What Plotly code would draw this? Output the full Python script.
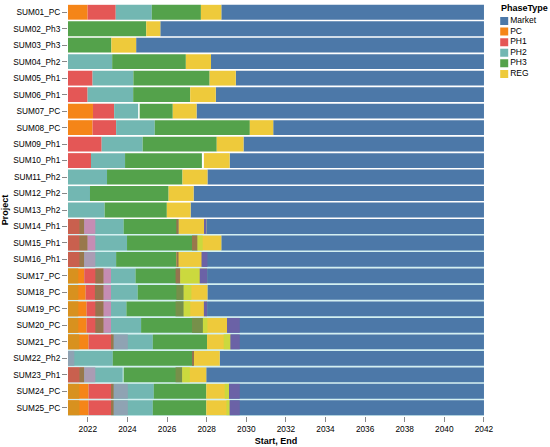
import plotly.graph_objects as go

# Projects, top to bottom
projects = ["SUM01_PC", "SUM02_Ph3", "SUM03_Ph3", "SUM04_Ph2", "SUM05_Ph1",
            "SUM06_Ph1", "SUM07_PC", "SUM08_PC", "SUM09_Ph1", "SUM10_Ph1",
            "SUM11_Ph2", "SUM12_Ph2", "SUM13_Ph2", "SUM14_Ph1", "SUM15_Ph1",
            "SUM16_Ph1", "SUM17_PC", "SUM18_PC", "SUM19_PC", "SUM20_PC",
            "SUM21_PC", "SUM22_Ph2", "SUM23_Ph1", "SUM24_PC", "SUM25_PC"]

phase_types = ["Market", "PC", "PH1", "PH2", "PH3", "REG"]

# Phase rows: project, phase, start, end (decimal years)
seg_project = []
seg_phase = []
seg_start = []
seg_end = []

def add(p, rows):
    for ph, s, e in rows:
        seg_project.append(p)
        seg_phase.append(ph)
        seg_start.append(s)
        seg_end.append(e)

add("SUM01_PC", [("PC", 2021.0, 2021.99), ("PH1", 2021.99, 2023.41), ("PH2", 2023.41, 2025.23),
                 ("PH3", 2025.23, 2027.71), ("REG", 2027.71, 2028.74), ("Market", 2028.74, 2042)])
add("SUM02_Ph3", [("PH3", 2021.0, 2024.95), ("REG", 2024.95, 2025.66), ("Market", 2025.66, 2042)])
add("SUM03_Ph3", [("PH3", 2021.0, 2023.19), ("REG", 2023.19, 2024.44), ("Market", 2024.44, 2042)])
add("SUM04_Ph2", [("PH2", 2021.0, 2023.23), ("PH3", 2023.23, 2026.95), ("REG", 2026.95, 2028.22),
                  ("Market", 2028.22, 2042)])
add("SUM05_Ph1", [("PH1", 2021.0, 2022.24), ("PH2", 2022.24, 2024.30), ("PH3", 2024.30, 2028.15),
                  ("REG", 2028.15, 2029.47), ("Market", 2029.47, 2042)])
add("SUM06_Ph1", [("PH1", 2021.0, 2021.99), ("PH2", 2021.99, 2024.29), ("PH3", 2024.29, 2027.17),
                  ("REG", 2027.17, 2028.46), ("Market", 2028.46, 2042)])
add("SUM07_PC", [("PC", 2021.0, 2022.26), ("PH1", 2022.26, 2023.33), ("PH2", 2023.33, 2024.54),
                 ("PH3", 2024.62, 2026.29), ("REG", 2026.29, 2027.49), ("Market", 2027.49, 2042)])
add("SUM08_PC", [("PC", 2021.0, 2022.24), ("PH1", 2022.24, 2023.43), ("PH2", 2023.43, 2025.38),
                 ("PH3", 2025.38, 2030.18), ("REG", 2030.18, 2031.36), ("Market", 2031.36, 2042)])
add("SUM09_Ph1", [("PH1", 2021.0, 2022.70), ("PH2", 2022.70, 2024.77), ("PH3", 2024.77, 2028.51),
                  ("REG", 2028.51, 2029.86), ("Market", 2029.86, 2042)])
add("SUM10_Ph1", [("PH1", 2021.0, 2022.16), ("PH2", 2022.16, 2023.88), ("PH3", 2023.88, 2027.76),
                  ("REG", 2027.86, 2029.16), ("Market", 2029.16, 2042)])
add("SUM11_Ph2", [("PH2", 2021.0, 2022.97), ("PH3", 2022.97, 2026.78), ("REG", 2026.78, 2028.04),
                  ("Market", 2028.04, 2042)])
add("SUM12_Ph2", [("PH2", 2021.0, 2022.11), ("PH3", 2022.11, 2026.08), ("REG", 2026.08, 2027.34),
                  ("Market", 2027.34, 2042)])
add("SUM13_Ph2", [("PH2", 2021.0, 2022.85), ("PH3", 2022.85, 2025.99), ("REG", 2025.99, 2027.19),
                  ("Market", 2027.19, 2042)])
add("SUM14_Ph1", [("PH1", 2021.0, 2021.82), ("PH2", 2021.82, 2023.81), ("PH3", 2023.81, 2026.58),
                  ("REG", 2026.58, 2027.98), ("Market", 2027.98, 2042)])
add("SUM15_Ph1", [("PH1", 2021.0, 2021.99), ("PH2", 2021.99, 2023.98), ("PH3", 2023.98, 2027.54),
                  ("REG", 2027.54, 2028.74), ("Market", 2028.74, 2042)])
add("SUM16_Ph1", [("PH1", 2021.0, 2021.82), ("PH2", 2021.82, 2023.43), ("PH3", 2023.43, 2026.47),
                  ("REG", 2026.47, 2027.78), ("Market", 2027.78, 2042)])
add("SUM17_PC", [("PC", 2021.0, 2021.82), ("PH1", 2021.82, 2022.80), ("PH2", 2022.80, 2024.41),
                 ("PH3", 2024.41, 2026.67), ("REG", 2026.67, 2028.02), ("Market", 2028.02, 2042)])
add("SUM18_PC", [("PC", 2021.0, 2021.89), ("PH1", 2021.89, 2022.80), ("PH2", 2022.80, 2024.52),
                 ("PH3", 2024.52, 2026.84), ("REG", 2026.84, 2028.04), ("Market", 2028.04, 2042)])
add("SUM19_PC", [("PC", 2021.0, 2021.94), ("PH1", 2021.94, 2022.80), ("PH2", 2022.80, 2023.95),
                 ("PH3", 2023.95, 2026.84), ("REG", 2026.84, 2028.02), ("Market", 2028.02, 2042)])
add("SUM20_PC", [("PC", 2021.0, 2021.94), ("PH1", 2021.94, 2022.80), ("PH2", 2022.80, 2024.69),
                 ("PH3", 2024.69, 2027.81), ("REG", 2027.81, 2029.03), ("Market", 2029.03, 2042)])
add("SUM21_PC", [("PC", 2021.0, 2022.04), ("PH1", 2022.04, 2023.21), ("PH2", 2023.21, 2025.28),
                 ("PH3", 2025.28, 2028.02), ("REG", 2028.02, 2029.20), ("Market", 2029.20, 2042)])
add("SUM22_Ph2", [("PH2", 2021.0, 2023.26), ("PH3", 2023.26, 2027.34), ("REG", 2027.34, 2028.66),
                  ("Market", 2028.66, 2042)])
add("SUM23_Ph1", [("PH1", 2021.0, 2021.82), ("PH2", 2021.82, 2023.76), ("PH3", 2023.81, 2026.77),
                  ("REG", 2026.77, 2027.98), ("Market", 2027.98, 2042)])
add("SUM24_PC", [("PC", 2021.0, 2022.04), ("PH1", 2022.04, 2023.21), ("PH2", 2023.21, 2025.33),
                 ("PH3", 2025.33, 2027.98), ("REG", 2027.98, 2029.13), ("Market", 2029.13, 2042)])
add("SUM25_PC", [("PC", 2021.0, 2022.04), ("PH1", 2022.04, 2023.21), ("PH2", 2023.21, 2025.28),
                 ("PH3", 2025.28, 2027.98), ("REG", 2027.98, 2029.16), ("Market", 2029.16, 2042)])

# Overlapping (blended) stretches seen in the lower projects
ov_project = ["SUM14_Ph1", "SUM14_Ph1", "SUM14_Ph1", "SUM14_Ph1", "SUM14_Ph1",
              "SUM15_Ph1", "SUM15_Ph1", "SUM15_Ph1", "SUM15_Ph1", "SUM15_Ph1",
              "SUM16_Ph1", "SUM16_Ph1", "SUM16_Ph1", "SUM16_Ph1", "SUM16_Ph1",
              "SUM17_PC", "SUM17_PC", "SUM17_PC", "SUM17_PC", "SUM17_PC", "SUM17_PC",
              "SUM18_PC", "SUM18_PC", "SUM18_PC", "SUM18_PC", "SUM18_PC",
              "SUM19_PC", "SUM19_PC", "SUM19_PC", "SUM19_PC", "SUM19_PC", "SUM19_PC",
              "SUM20_PC", "SUM20_PC", "SUM20_PC", "SUM20_PC", "SUM20_PC", "SUM20_PC",
              "SUM21_PC", "SUM21_PC", "SUM21_PC", "SUM21_PC", "SUM21_PC",
              "SUM22_Ph2", "SUM22_Ph2",
              "SUM23_Ph1", "SUM23_Ph1", "SUM23_Ph1", "SUM23_Ph1", "SUM23_Ph1",
              "SUM24_PC", "SUM24_PC", "SUM24_PC", "SUM24_PC", "SUM24_PC",
              "SUM25_PC", "SUM25_PC", "SUM25_PC", "SUM25_PC", "SUM25_PC"]
ov_kind = ["rust", "olive", "mauve", "brown", "purple",
           "rust", "olive", "mauve", "olive", "lime",
           "rust", "olive", "greymauve", "brown", "purple",
           "ochre", "brown", "mauve", "brown", "lime", "purple",
           "ochre", "brown", "mauve", "ogreen", "lime",
           "ochre", "brown", "mauve", "ogreen", "lime", "purple",
           "ochre", "brown", "mauve", "ogreen", "lime", "purple",
           "ochre", "olive", "greyblue", "lime", "purple",
           "greyblue", "brown",
           "rust", "olive", "greymauve", "ogreen", "lime",
           "ochre", "olive", "greyblue", "lime", "purple",
           "ochre", "olive", "greyblue", "lime", "purple"]
ov_start = [2021.0, 2021.57, 2021.82, 2026.47, 2027.90,
            2021.0, 2021.57, 2021.99, 2027.26, 2027.54,
            2021.0, 2021.57, 2021.82, 2026.47, 2027.74,
            2021.0, 2022.38, 2022.80, 2026.43, 2026.67, 2027.65,
            2021.0, 2022.36, 2022.80, 2026.47, 2026.84,
            2021.0, 2022.38, 2022.80, 2026.43, 2026.84, 2027.86,
            2021.0, 2022.38, 2022.80, 2027.26, 2027.81, 2029.03,
            2021.0, 2023.21, 2023.31, 2028.86, 2029.20,
            2021.0, 2027.26,
            2021.0, 2021.57, 2021.82, 2026.43, 2026.77,
            2021.0, 2023.21, 2023.31, 2028.91, 2029.13,
            2021.0, 2023.21, 2023.31, 2029.00, 2029.16]
ov_end = [2021.57, 2021.82, 2022.38, 2026.58, 2027.98,
          2021.57, 2021.99, 2022.38, 2027.54, 2027.80,
          2021.57, 2021.82, 2022.38, 2026.58, 2028.04,
          2021.52, 2022.80, 2023.17, 2026.67, 2027.65, 2028.02,
          2021.52, 2022.80, 2023.17, 2026.84, 2027.23,
          2021.52, 2022.80, 2023.17, 2026.84, 2027.17, 2028.02,
          2021.52, 2022.80, 2023.17, 2027.81, 2028.04, 2029.67,
          2021.57, 2023.31, 2024.02, 2029.20, 2029.67,
          2021.32, 2027.36,
          2021.57, 2021.82, 2022.38, 2026.77, 2027.15,
          2021.57, 2023.31, 2024.02, 2029.13, 2029.67,
          2021.57, 2023.31, 2024.02, 2029.16, 2029.67]

# tinted band behind the overlapping projects
band_projects = projects[13:]
band_start = [2021.0] * len(band_projects)
band_end = [2042.0] * len(band_projects)

x_ticks = [2022, 2024, 2026, 2028, 2030, 2032, 2034, 2036, 2038, 2040, 2042]

phase_colors = {"Market": "#4c78a8", "PC": "#f58518", "PH1": "#e45756",
                "PH2": "#72b7b2", "PH3": "#54a24b", "REG": "#eeca3b"}
blend_colors = {"ochre": "#d8911f", "rust": "#c9604e", "olive": "#98784c",
                "brown": "#95744f", "mauve": "#c58db4", "greymauve": "#aa9cb4",
                "greyblue": "#8fa3b3", "ogreen": "#76904a", "lime": "#cbd93e",
                "purple": "#6b62a6"}

font_name = "Liberation Sans, Arial, sans-serif"

fig = go.Figure()

# light band (fills the gaps between the lower rows)
fig.add_trace(go.Bar(y=band_projects,
                     x=[e - s for s, e in zip(band_start, band_end)],
                     base=band_start, orientation="h",
                     width=1.0, offset=-0.45,
                     marker=dict(color="#d3f0f1", line=dict(width=0)),
                     showlegend=False, hoverinfo="skip"))

for ph in phase_types:
    idx = [i for i, p in enumerate(seg_phase) if p == ph]
    fig.add_trace(go.Bar(y=[seg_project[i] for i in idx],
                         x=[seg_end[i] - seg_start[i] for i in idx],
                         base=[seg_start[i] for i in idx],
                         orientation="h", name=ph, width=0.9, showlegend=False,
                         marker=dict(color=phase_colors[ph], line=dict(width=0))))

for kind, col in blend_colors.items():
    idx = [i for i, k in enumerate(ov_kind) if k == kind]
    fig.add_trace(go.Bar(y=[ov_project[i] for i in idx],
                         x=[ov_end[i] - ov_start[i] for i in idx],
                         base=[ov_start[i] for i in idx],
                         orientation="h", width=0.9,
                         marker=dict(color=col, line=dict(width=0)),
                         showlegend=False, hoverinfo="skip"))

# legend drawn as a small scatter on its own axes (tighter rows than plotly's legend)
fig.add_trace(go.Scatter(x=[1.1] * len(phase_types), y=phase_types,
                         mode="markers+text", text=phase_types,
                         textposition="middle right",
                         marker=dict(symbol="square", size=8,
                                     color=[phase_colors[p] for p in phase_types]),
                         textfont=dict(size=8.5, color="#000"),
                         xaxis="x2", yaxis="y2", showlegend=False, hoverinfo="skip"))

fig.update_layout(
    width=550, height=447,
    margin=dict(l=68, r=0, t=4, b=31),
    barmode="overlay",
    plot_bgcolor="white", paper_bgcolor="white",
    font=dict(family=font_name, size=8, color="#000"),
    showlegend=False,
    xaxis=dict(domain=[0, 0.863], range=[2021, 2042], tickvals=x_ticks, tickformat="d",
               ticks="outside", ticklen=5, tickcolor="#888", tickfont=dict(size=8.3),
               showline=False, showgrid=False, zeroline=False,
               title=dict(text="Start, End", font=dict(size=9, weight="bold"), standoff=4),
               automargin=False),
    yaxis=dict(categoryorder="array", categoryarray=projects, range=[24.5, -0.5],
               ticks="outside", ticklen=5, tickcolor="#888", tickfont=dict(size=8.3),
               showline=False, showgrid=False,
               title=dict(text="Project", font=dict(size=9, weight="bold"), standoff=4),
               automargin=False),
    xaxis2=dict(domain=[0.894, 0.994], range=[0, 10], visible=False, fixedrange=True),
    yaxis2=dict(domain=[0.8175, 0.9716], range=[5.5, -0.5], type="category",
                categoryorder="array", categoryarray=phase_types,
                visible=False, fixedrange=True, anchor="x2"),
    annotations=[dict(text="PhaseType", xref="paper", yref="paper", x=0.894, y=0.990,
                      xanchor="left", yanchor="middle", showarrow=False,
                      font=dict(size=9, weight="bold", color="#000"))],
)

fig.write_html("out.html", config={"displayModeBar": False},
               post_script="document.body.style.margin='0';")
